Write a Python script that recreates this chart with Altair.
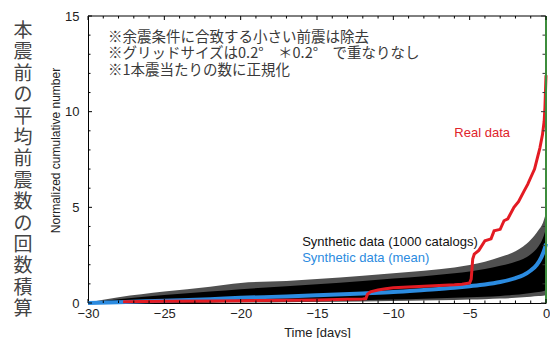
import altair as alt
import pandas as pd

# ---------------- data ----------------
band_t = [-30, -28, -25, -22, -20, -17, -15, -12, -10, -8, -6, -5, -4, -3, -2, -1.5, -1, -0.5, -0.2, 0]
core_hi = [0, 0.2, 0.42, 0.6, 0.72, 0.88, 0.98, 1.15, 1.28, 1.4, 1.55, 1.65, 1.78, 1.95, 2.15, 2.3, 2.55, 2.95, 3.4, 3.9]
fringe_hi = [0.02, 0.3, 0.6, 0.85, 1.05, 1.15, 1.25, 1.42, 1.55, 1.68, 1.85, 1.98, 2.15, 2.4, 2.7, 2.95, 3.3, 3.8, 4.2, 4.7]
core_lo = [0, 0.0, 0.02, 0.04, 0.06, 0.09, 0.11, 0.15, 0.18, 0.22, 0.27, 0.3, 0.33, 0.37, 0.43, 0.47, 0.52, 0.58, 0.62, 0.65]
fringe_lo = [0, 0, 0, 0.01, 0.02, 0.04, 0.05, 0.08, 0.1, 0.13, 0.16, 0.18, 0.2, 0.23, 0.27, 0.3, 0.33, 0.36, 0.38, 0.4]

mean_t = [-30, -28, -25, -22, -20, -17, -15, -12, -10, -8, -6, -5, -4, -3, -2, -1.5, -1, -0.6, -0.3, -0.1, 0]
mean_v = [0, 0.04, 0.12, 0.2, 0.27, 0.34, 0.4, 0.5, 0.57, 0.68, 0.8, 0.88, 0.97, 1.1, 1.3, 1.45, 1.7, 2.0, 2.4, 2.8, 3.1]

real_t = [-27.7, -25, -22, -20, -17, -15, -13, -12, -11.8, -11.7, -11.5, -11.0, -10.5, -10, -9, -8, -7, -6, -5.5, -5.0,
          -4.9, -4.8, -4.7, -4.4, -4.0, -3.6, -3.4, -3.0, -2.75, -2.5, -2.1, -1.8, -1.43, -1.2, -1.0, -0.75, -0.56,
          -0.4, -0.23, -0.12, -0.07, 0]
real_v = [0.07, 0.09, 0.11, 0.12, 0.14, 0.16, 0.19, 0.21, 0.23, 0.45, 0.58, 0.68, 0.75, 0.8, 0.84, 0.88, 0.91, 0.95, 0.98, 1.05,
          1.25, 2.3, 2.55, 2.75, 3.25, 3.35, 3.77, 3.85, 4.3, 4.4, 5.0, 5.3, 5.86, 6.2, 6.56, 7.0, 7.6,
          8.1, 8.8, 9.5, 10.2, 11.9]

x_major = [-30, -25, -20, -15, -10, -5, 0]
x_minor = [-29, -28, -27, -26, -24, -23, -22, -21, -19, -18, -17, -16, -14, -13, -12, -11, -9, -8, -7, -6, -4, -3, -2, -1]
y_major = [0, 5, 10, 15]
y_minor = [1, 2, 3, 4, 6, 7, 8, 9, 11, 12, 13, 14]

notes = ["※余震条件に合致する小さい前震は除去",
         "※グリッドサイズは0.2°　＊0.2°　で重なりなし",
         "※1本震当たりの数に正規化"]
side_title = list("本震前の平均前震数の回数積算")

labels_t = [-4.18, -15.97, -15.97]
labels_v = [8.87, 3.17, 2.33]
labels_txt = ["Real data", "Synthetic data (1000 catalogs)", "Synthetic data (mean)"]

# ---------------- chart ----------------
W, H = 458, 287
FONT = "Liberation Sans"
JP = "Noto Sans CJK JP"

xs = alt.Scale(domain=[-30, 0], nice=False, zero=False)
ys = alt.Scale(domain=[0, 15], nice=False)
xaxis = alt.Axis(values=x_major, ticks=False, grid=False, domainColor="black", domainWidth=1,
                 labelFont=FONT, labelFontSize=13, labelColor="#222", labelPadding=4,
                 titleFont=FONT, titleFontSize=13, titleFontWeight="normal", titleColor="#222",
                 titlePadding=6, labelFlush=False)
yaxis = alt.Axis(values=y_major, ticks=False, grid=False, domainColor="black", domainWidth=1,
                 labelFont=FONT, labelFontSize=13, labelColor="#222", labelPadding=9,
                 titleFont=FONT, titleFontSize=12, titleFontWeight="normal", titleColor="#222",
                 titleX=-33, titleY=134, titleBaseline="middle", labelFlush=False)

X = alt.X("t:Q", scale=xs, axis=xaxis, title="Time [days]")
Y = alt.Y("v:Q", scale=ys, axis=yaxis, title="Normalized cumulative number")

band = pd.DataFrame({"t": band_t, "v": fringe_hi, "lo": fringe_lo, "chi": core_hi, "clo": core_lo})

fringe = alt.Chart(band).mark_area(color="#505050", interpolate="monotone").encode(
    x=X, y=Y, y2=alt.Y2("lo:Q"))
core = alt.Chart(band).mark_area(color="black", interpolate="monotone").encode(
    x=X, y=alt.Y("chi:Q", scale=ys, axis=yaxis, title="Normalized cumulative number"), y2=alt.Y2("clo:Q"))

mean_line = alt.Chart(pd.DataFrame({"t": mean_t, "v": mean_v})).mark_line(
    color="#2b8be0", strokeWidth=4, interpolate="monotone").encode(x=X, y=Y)
real_line = alt.Chart(pd.DataFrame({"t": real_t, "v": real_v})).mark_line(
    color="#e31b23", strokeWidth=3).encode(x=X, y=Y)

green = alt.Chart(pd.DataFrame({"t": [0]})).mark_rule(color="#3c8d3c", strokeWidth=2).encode(
    x=X, y=alt.value(0), y2=alt.value(H))
top = alt.Chart(pd.DataFrame({"t": [-30]})).mark_rule(color="black", strokeWidth=1).encode(
    x=alt.value(0), x2=alt.value(W), y=alt.value(0))

def xticks(vals, ln):
    d = pd.DataFrame({"t": vals})
    b = alt.Chart(d).mark_rule(color="black", strokeWidth=1).encode(x=X, y=alt.value(H), y2=alt.value(H - ln))
    t = alt.Chart(d).mark_rule(color="black", strokeWidth=1).encode(x=X, y=alt.value(0), y2=alt.value(ln))
    return [b, t]

def yticks(vals, ln):
    d = pd.DataFrame({"v": vals})
    l = alt.Chart(d).mark_rule(color="black", strokeWidth=1).encode(y=Y, x=alt.value(0), x2=alt.value(ln))
    r = alt.Chart(d).mark_rule(color="#333", strokeWidth=1).encode(y=Y, x=alt.value(W - 1), x2=alt.value(W - 1 - ln))
    return [l, r]

ticks = xticks(x_major, 4) + xticks(x_minor, 2.5) + yticks(y_major, 4) + yticks(y_minor, 2.5)

lab = pd.DataFrame({"t": labels_t, "v": labels_v, "txt": labels_txt})
label_layers = [
    alt.Chart(lab.iloc[[0]]).mark_text(font=FONT, fontSize=13, color="#e0242c", align="center",
                                        baseline="middle").encode(x=X, y=Y, text="txt:N"),
    alt.Chart(lab.iloc[[1]]).mark_text(font=FONT, fontSize=13, color="#111", align="left",
                                        baseline="middle").encode(x=X, y=Y, text="txt:N"),
    alt.Chart(lab.iloc[[2]]).mark_text(font=FONT, fontSize=13, color="#2b8be0", align="left",
                                        baseline="middle").encode(x=X, y=Y, text="txt:N"),
]

dummy = pd.DataFrame({"a": [0]})
notes_text = alt.Chart(dummy).mark_text(text=notes, font=JP, fontSize=14.5, color="#3a3a3a",
                                        align="left", baseline="top", lineHeight=16.3).encode(
    x=alt.value(20), y=alt.value(15))
side_text = alt.Chart(dummy).mark_text(text=side_title, font=JP, fontSize=19, color="#444",
                                       align="center", baseline="top", lineHeight=21.4).encode(
    x=alt.value(-65), y=alt.value(6))

chart = alt.layer(fringe, core, mean_line, real_line, green, top, *ticks, *label_layers,
                  notes_text, side_text).properties(
    width=W, height=H,
    autosize=alt.AutoSizeParams(type="none"),
    padding={"left": 80, "top": 8, "right": 4, "bottom": 35},
    background="white",
).configure_view(stroke=None)

chart.save("out.html", embed_options={"renderer": "svg", "actions": False})
